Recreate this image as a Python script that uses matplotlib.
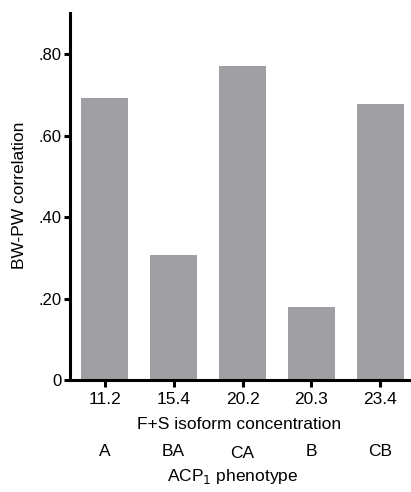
import matplotlib
matplotlib.use('Agg')
import matplotlib.pyplot as plt
import numpy as np

plt.rc('font', family='Liberation Sans')

concentrations = ['11.2', '15.4', '20.2', '20.3', '23.4']
phenotypes = ['A', 'BA', 'CA', 'B', 'CB']
correlations = [0.692, 0.307, 0.770, 0.179, 0.677]
ytick_vals = [0, 0.2, 0.4, 0.6, 0.8]
ytick_labels = ['0', '.20', '.40', '.60', '.80']

fig = plt.figure(figsize=(4.11, 4.92), dpi=100)
# axes box in pixels: x 69.5..410, y 13.3..380 (from top)
ax = fig.add_axes([69.5 / 411, 112 / 492, (410 - 69.5) / 411, (380 - 13.3) / 492])

x = np.arange(len(correlations))
ax.bar(x, correlations, width=0.68, color='#a0a0a4', edgecolor='none')

ax.set_xlim(-0.51, 4.43)
ax.set_ylim(0, 0.9)
ax.set_yticks(ytick_vals)
ax.set_yticklabels(ytick_labels)
ax.set_xticks(x)
ax.set_xticklabels(concentrations)

for s in ['top', 'right']:
    ax.spines[s].set_visible(False)
for s in ['left', 'bottom']:
    ax.spines[s].set_linewidth(2.2)

ax.tick_params(axis='both', width=2.2, direction='out')
ax.tick_params(axis='x', length=5, pad=4, labelsize=12.5)
ax.tick_params(axis='y', length=4.5, pad=1, labelsize=12)

ax.set_ylabel('BW-PW correlation', fontsize=12.5, va='center')
ax.yaxis.set_label_coords(-0.148, 0.503)
ax.set_xlabel('F+S isoform concentration', fontsize=12.5, va='center')
ax.xaxis.set_label_coords(0.497, -0.1227)

# second row of category labels (phenotype)
offsets = [0, 0, -3, 0, 0]
for xi, ph, dy in zip(x, phenotypes, offsets):
    ax.annotate(ph, xy=(xi, 0), xycoords=('data', 'axes fraction'),
                xytext=(0, -71 + dy), textcoords='offset pixels',
                ha='center', va='center', fontsize=12.5)
fig.text(233 / 411, 1 - 477 / 492, 'ACP$_1$ phenotype', ha='center', va='center', fontsize=12.5)

fig.savefig('out.png', dpi=100)
